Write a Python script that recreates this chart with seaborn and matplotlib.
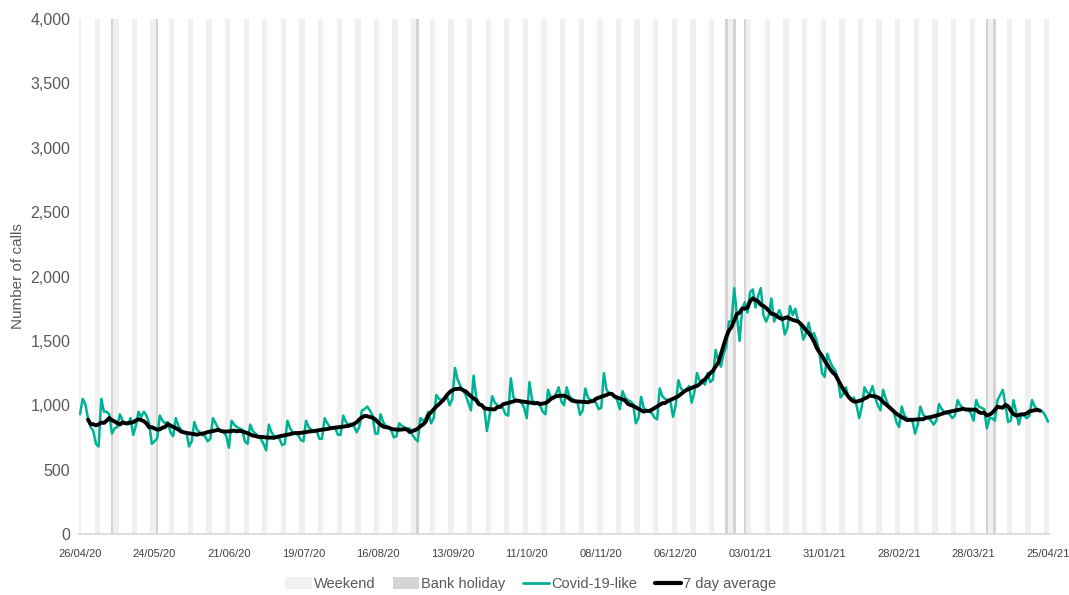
import numpy as np
import pandas as pd
import matplotlib
matplotlib.use('Agg')
import matplotlib.pyplot as plt
import seaborn as sns
from matplotlib.patches import Patch
from matplotlib.lines import Line2D
from matplotlib import font_manager as fm

sns.set_theme(style='white')
avail = {f.name for f in fm.fontManager.ttflist}
fam = 'Liberation Sans Narrow' if 'Liberation Sans Narrow' in avail else 'Liberation Sans'
plt.rcParams['font.family'] = [fam, 'DejaVu Sans']

# ---------------- data ----------------
start_date = '2020-04-26'
end_date = '2021-04-25'

# daily Covid-19-like calls, one row per week (Sun..Sat)
covid_calls = [
    930, 1050, 1010, 900, 830, 800, 700,
    680, 1050, 950, 950, 930, 780, 820,
    830, 930, 880, 860, 850, 900, 770,
    840, 950, 910, 950, 920, 860, 700,
    720, 740, 920, 880, 860, 870, 790,
    760, 900, 840, 810, 790, 790, 680,
    720, 870, 810, 790, 770, 760, 720,
    740, 900, 860, 820, 800, 790, 760,
    670, 880, 850, 830, 820, 810, 720,
    700, 850, 800, 780, 760, 740, 700,
    650, 850, 790, 760, 750, 740, 690,
    700, 880, 820, 790, 780, 770, 730,
    720, 880, 830, 810, 800, 800, 740,
    740, 900, 860, 830, 820, 820, 770,
    770, 920, 870, 850, 840, 840, 790,
    830, 960, 970, 990, 960, 920, 780,
    780, 930, 870, 840, 830, 810, 750,
    760, 860, 840, 830, 820, 820, 770,
    740, 720, 900, 880, 900, 950, 860,
    900, 1080, 1050, 1040, 1060, 1070, 1000,
    1050, 1290, 1200, 1150, 1120, 1080, 1020,
    960, 1230, 1060, 1020, 1000, 980, 800,
    920, 1070, 1020, 1000, 990, 980, 930,
    920, 1210, 1060, 1040, 1030, 1020, 980,
    900, 1180, 1040, 1020, 1010, 1000, 950,
    930, 1120, 1060, 1050, 1090, 1140, 1030,
    1000, 1140, 1070, 1050, 1040, 1030, 925,
    960, 1130, 1060, 1040, 1030, 1020, 970,
    980, 1250, 1120, 1090, 1080, 1070, 1040,
    970, 1110, 1060, 1040, 1030, 1010, 860,
    900, 1065, 980, 960, 950, 940, 905,
    890, 1130, 1070, 1050, 1040, 1030, 910,
    1000, 1195, 1130, 1110, 1120, 1150, 1020,
    1100, 1250, 1190, 1180, 1160, 1250, 1180,
    1200, 1430, 1350, 1300, 1400, 1450, 1650,
    1650, 1910, 1700, 1500, 1750, 1800, 1720,
    1880, 1900, 1760, 1850, 1910, 1700, 1650,
    1700, 1830, 1650, 1700, 1740, 1680, 1550,
    1600, 1770, 1700, 1750, 1650, 1620, 1510,
    1560, 1640, 1540, 1560, 1500, 1420, 1250,
    1220, 1400, 1340, 1300, 1270, 1200, 1060,
    1090, 1140, 1060, 1050, 1060, 1000, 900,
    990, 1140, 1100, 1090, 1150, 1060, 1000,
    960, 1120, 1050, 1000, 980, 950, 870,
    830, 990, 920, 900, 890, 880, 780,
    850, 990, 930, 910, 900, 880, 850,
    880, 1010, 970, 950, 940, 930, 900,
    920, 1040, 1000, 980, 970, 960, 940,
    880, 1040, 990, 980, 970, 820, 900,
    900, 880, 1040, 1080, 1120, 1000, 870,
    880, 1040, 950, 850, 930, 920, 900,
    920, 1040, 990, 970, 960, 950, 920,
    872,
]

bank_holidays = ['2020-05-08', '2020-05-25', '2020-08-31', '2020-12-25',
                 '2020-12-28', '2021-01-01', '2021-04-02', '2021-04-05']

tick_dates = ['2020-04-26', '2020-05-24', '2020-06-21', '2020-07-19', '2020-08-16',
              '2020-09-13', '2020-10-11', '2020-11-08', '2020-12-06', '2021-01-03',
              '2021-01-31', '2021-02-28', '2021-03-28', '2021-04-25']
tick_labels = ['26/04/20', '24/05/20', '21/06/20', '19/07/20', '16/08/20', '13/09/20',
               '11/10/20', '08/11/20', '06/12/20', '03/01/21', '31/01/21', '28/02/21',
               '28/03/21', '25/04/21']
y_ticks = [0, 500, 1000, 1500, 2000, 2500, 3000, 3500, 4000]

# ---------------- build ----------------
dates = pd.date_range(start_date, end_date, freq='D')
df = pd.DataFrame({'date': dates, 'calls': covid_calls})
df['avg7'] = df['calls'].rolling(7, center=True).mean()

ymax = y_ticks[-1]
bh = pd.to_datetime(bank_holidays)
weekend = dates[dates.dayofweek >= 5]

TEAL = '#00B294'
WEEKEND_C = '#F0F0F0'
BH_C = '#D4D4D4'
TXT = '#595959'

fig = plt.figure(figsize=(10.69, 5.95), dpi=100)
ax = fig.add_axes([0.0736, 0.1025, 0.908, 0.8655])

ax.bar(weekend, [ymax] * len(weekend), width=1.0, color=WEEKEND_C, linewidth=0, zorder=0)
ax.bar(bh, [ymax] * len(bh), width=1.0, color=BH_C, linewidth=0, zorder=0)

sns.lineplot(data=df, x='date', y='calls', color=TEAL, lw=1.8, ax=ax, zorder=3)
sns.lineplot(data=df, x='date', y='avg7', color='black', lw=2.8, ax=ax, zorder=4)

ax.set_xlim(dates[0] - pd.Timedelta(hours=12), dates[-1] + pd.Timedelta(hours=12))
ax.set_ylim(0, ymax)
ax.set_yticks(y_ticks)
ax.set_yticklabels([f'{v:,}' for v in y_ticks], color=TXT, fontsize=11.5)
ax.set_xticks(pd.to_datetime(tick_dates))
ax.set_xticklabels(tick_labels, color='#404040', fontsize=8)

for s in ['top', 'right', 'left']:
    ax.spines[s].set_visible(False)
ax.spines['bottom'].set_color('#D9D9D9')
ax.spines['bottom'].set_linewidth(1.2)
ax.tick_params(axis='x', which='major', direction='out', length=5, color='#D9D9D9', pad=6)
ax.tick_params(axis='y', length=0, pad=6)
ax.grid(False)

ax.set_xlabel('')
ax.set_ylabel('Number of calls', color=TXT, fontsize=11, labelpad=4)

handles = [Patch(facecolor=WEEKEND_C, edgecolor='none'),
           Patch(facecolor=BH_C, edgecolor='none'),
           Line2D([], [], color=TEAL, lw=2),
           Line2D([], [], color='black', lw=3)]
labels = ['Weekend', 'Bank holiday', 'Covid-19-like', '7 day average']
leg = fig.legend(handles, labels, loc='center', bbox_to_anchor=(531 / 1069, 1 - 584 / 595),
                 ncol=4, frameon=False, fontsize=10.5, handlelength=1.8, handleheight=0.9,
                 handletextpad=0.15, columnspacing=1.2, borderaxespad=0, borderpad=0)
for t in leg.get_texts():
    t.set_color(TXT)

fig.savefig('out.png', dpi=100)
